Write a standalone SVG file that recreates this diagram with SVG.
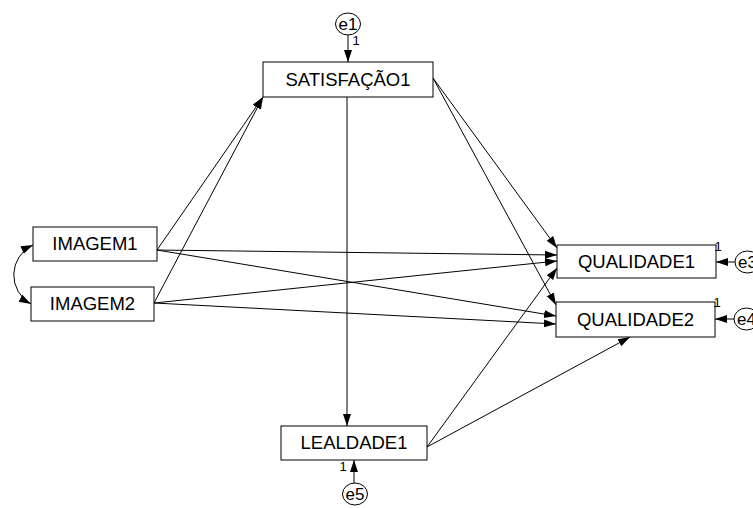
<svg xmlns="http://www.w3.org/2000/svg" width="753" height="508" viewBox="0 0 753 508">
  <defs>
    <marker id="arrow" markerUnits="userSpaceOnUse" markerWidth="12" markerHeight="10" viewBox="0 0 12 10" refX="12" refY="5" orient="auto-start-reverse">
      <path d="M0,1 L12,5 L0,9 Z" fill="#000"/>
    </marker>
  </defs>
  <style>
    .box { fill: #fff; stroke: #000; stroke-width: 1; }
    .err { fill: #fff; stroke: #000; stroke-width: 1; }
    .lbl { font-family: "Liberation Sans", Arial, sans-serif; font-size: 18.5px; fill: #000; text-anchor: middle; }
    .elbl { font-family: "Liberation Sans", Arial, sans-serif; font-size: 17px; fill: #000; text-anchor: middle; }
    .one { font-family: "Liberation Sans", Arial, sans-serif; font-size: 13px; fill: #000; text-anchor: middle; }
    .edge { fill: none; stroke: #000; stroke-width: 1; marker-end: url(#arrow); }
  </style>
  <rect width="753" height="508" fill="#fff"/>

  <!-- paths between variables -->
  <g id="connectors">
    <line class="edge" x1="433" y1="78" x2="557" y2="248"/>
    <line class="edge" x1="433" y1="78" x2="556" y2="305"/>
    <line class="edge" x1="347" y1="97" x2="347" y2="426"/>
    <line class="edge" x1="157" y1="250" x2="263" y2="97"/>
    <line class="edge" x1="154" y1="303" x2="263" y2="97"/>
    <line class="edge" x1="157" y1="250" x2="557" y2="255"/>
    <line class="edge" x1="157" y1="250" x2="556" y2="316"/>
    <line class="edge" x1="154" y1="303" x2="557" y2="261"/>
    <line class="edge" x1="154" y1="303" x2="556" y2="324"/>
    <line class="edge" x1="427" y1="447" x2="557" y2="268"/>
    <line class="edge" x1="427" y1="447" x2="630" y2="337"/>
    <!-- covariance between IMAGEM1 and IMAGEM2 -->
    <path class="edge" d="M33,245 A33,33 0 0,0 31,304" marker-start="url(#arrow)"/>
    <!-- error terms -->
    <line class="edge" x1="348" y1="35" x2="348" y2="62"/>
    <line class="edge" x1="735" y1="262" x2="716" y2="262"/>
    <line class="edge" x1="734" y1="319" x2="715" y2="319"/>
    <line class="edge" x1="354" y1="483" x2="354" y2="460"/>
  </g>

  <g id="SATISFACAO1">
    <rect class="box" x="263" y="62" width="170" height="35"/>
    <text class="lbl" x="348" y="86">SATISFAÇÃO1</text>
  </g>
  <g id="IMAGEM1">
    <rect class="box" x="33" y="227" width="124" height="34"/>
    <text class="lbl" x="95" y="250">IMAGEM1</text>
  </g>
  <g id="IMAGEM2">
    <rect class="box" x="31" y="287" width="123" height="34"/>
    <text class="lbl" x="92.5" y="310">IMAGEM2</text>
  </g>
  <g id="QUALIDADE1">
    <rect class="box" x="557" y="245" width="159" height="33"/>
    <text class="lbl" x="636.5" y="268">QUALIDADE1</text>
  </g>
  <g id="QUALIDADE2">
    <rect class="box" x="556" y="302" width="159" height="35"/>
    <text class="lbl" x="635.5" y="326">QUALIDADE2</text>
  </g>
  <g id="LEALDADE1">
    <rect class="box" x="281" y="426" width="146" height="34"/>
    <text class="lbl" x="354" y="449">LEALDADE1</text>
  </g>

  <g id="e1">
    <ellipse class="err" cx="348" cy="24" rx="12.5" ry="11"/>
    <text class="elbl" x="348" y="30">e1</text>
    <text class="one" x="356" y="45">1</text>
  </g>
  <g id="e3">
    <ellipse class="err" cx="747.5" cy="262" rx="12.5" ry="11"/>
    <text class="elbl" x="747.5" y="268">e3</text>
    <text class="one" x="718" y="251">1</text>
  </g>
  <g id="e4">
    <ellipse class="err" cx="746.5" cy="319" rx="12.5" ry="11"/>
    <text class="elbl" x="746.5" y="325">e4</text>
    <text class="one" x="717" y="307">1</text>
  </g>
  <g id="e5">
    <ellipse class="err" cx="355" cy="494" rx="12.5" ry="11"/>
    <text class="elbl" x="355" y="500">e5</text>
    <text class="one" x="343" y="471">1</text>
  </g>
</svg>
